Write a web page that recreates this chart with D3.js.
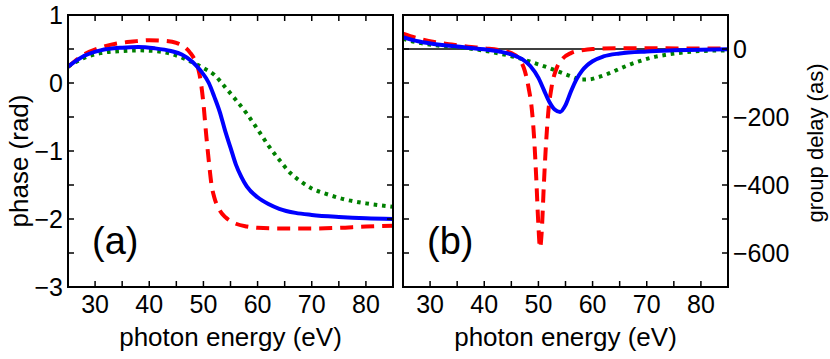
<!DOCTYPE html>
<html>
<head>
<meta charset="utf-8">
<script src="https://cdn.jsdelivr.net/npm/d3@7"></script>
<style>
  body { margin: 0; background: #fff; }
  text { font-family: "Liberation Sans", Arial, sans-serif; fill: #000; }
</style>
</head>
<body>
<div id="chart"></div>
<script>
// photon energy (eV) vs phase (rad) -- panel (a)
let phaseBlue = [[25,0.24],[28,0.40],[31,0.48],[35,0.52],[38,0.53],[41,0.51],[44,0.47],[46,0.42],[48,0.31],[49.5,0.18],[51,0.0],[52,-0.2],[53,-0.42],[54,-0.7],[55,-0.95],[56,-1.2],[57,-1.38],[58,-1.52],[60,-1.68],[62,-1.78],[64,-1.85],[67,-1.91],[70,-1.94],[75,-1.97],[80,-1.99],[85,-2.0]];
let phaseRed = [[25,0.24],[28,0.42],[31,0.52],[34,0.58],[37,0.61],[40,0.63],[43,0.62],[45,0.59],[46.5,0.53],[47.5,0.45],[48.5,0.32],[49.3,0.12],[50,-0.3],[50.5,-0.75],[51,-1.15],[51.5,-1.5],[52,-1.68],[53,-1.87],[54,-1.97],[55,-2.03],[56,-2.07],[58,-2.11],[60,-2.13],[65,-2.14],[70,-2.14],[75,-2.13],[80,-2.11],[85,-2.10]];
let phaseGreen = [[25,0.24],[28,0.37],[31,0.44],[35,0.47],[38,0.48],[41,0.47],[44,0.43],[47,0.34],[50,0.22],[52,0.12],[54,-0.06],[56,-0.25],[58,-0.45],[60,-0.68],[62,-0.92],[64,-1.13],[66,-1.32],[68,-1.45],[70,-1.55],[73,-1.64],[76,-1.71],[80,-1.77],[85,-1.82]];

// photon energy (eV) vs group delay (as) -- panel (b)
let delayBlue = [[25,35],[28,22],[31,14],[34,9],[37,4],[40,-1],[43,-8],[45,-16],[47,-30],[48.5,-50],[50,-85],[51,-120],[52,-155],[53,-178],[54,-185],[55,-165],[56,-125],[57,-90],[58,-65],[59,-48],[60,-36],[62,-22],[65,-13],[70,-7],[75,-4],[80,-2],[85,-1]];
let delayRed = [[25,45],[28,30],[31,20],[34,13],[37,7],[40,2],[43,-4],[45,-12],[46.5,-30],[47.5,-65],[48.2,-115],[48.8,-180],[49.2,-260],[49.6,-380],[50.0,-520],[50.3,-585],[50.6,-540],[51.0,-400],[51.4,-280],[51.8,-190],[52.4,-115],[53.4,-55],[54.5,-28],[56,-12],[58,-4],[60,0],[65,2],[70,2],[85,1]];
let delayGreen = [[25,30],[28,18],[31,11],[34,6],[37,2],[40,-5],[43,-14],[46,-25],[49,-40],[52,-56],[54,-68],[56,-80],[58,-90],[59.5,-89],[61,-83],[63,-72],[65,-58],[67,-45],[69,-34],[71,-25],[74,-16],[77,-10],[80,-6],[85,-4]];

let xTickLabels = [30, 40, 50, 60, 70, 80];
let phaseTickLabels = [1, 0, -1, -2, -3];
let delayTickLabels = [0, -200, -400, -600];

let svgWidth = 830;
let svgHeight = 359;

let svg = d3.select("#chart")
    .append("svg")
    .attr("width", svgWidth)
    .attr("height", svgHeight);

let plotTop = 15, plotBottom = 287;

// line styles for the three curves
let styles = {
    blue: { color: "#0000ff", dash: null, cap: "round" },
    red: { color: "#ff0000", dash: "13,8", cap: "butt" },
    green: { color: "#008000", dash: "3.6,4.8", cap: "butt" }
};

function drawPanel(left, right, yDomain, yMinor, yLabels, labelSide, series, tag, clipId) {
    let x = d3.scaleLinear().domain([25, 85]).range([left, right]);
    let y = d3.scaleLinear().domain(yDomain).range([plotBottom, plotTop]);

    let g = svg.append("g");

    g.append("clipPath").attr("id", clipId)
        .append("rect")
        .attr("x", left).attr("y", plotTop)
        .attr("width", right - left).attr("height", plotBottom - plotTop);

    // zero line in the delay panel
    if (labelSide === "right") {
        g.append("line")
            .attr("x1", left).attr("x2", right)
            .attr("y1", y(0)).attr("y2", y(0))
            .attr("stroke", "#000").attr("stroke-width", 1.5);
    }

    let line = d3.line()
        .x(d => x(d[0]))
        .y(d => y(d[1]))
        .curve(d3.curveMonotoneX);

    let plot = g.append("g").attr("clip-path", `url(#${clipId})`);
    ["green", "red", "blue"].forEach(function (k) {
        let s = styles[k];
        plot.append("path")
            .datum(series[k])
            .attr("fill", "none")
            .attr("stroke", s.color)
            .attr("stroke-width", 4)
            .attr("stroke-linecap", s.cap)
            .attr("stroke-dasharray", s.dash)
            .attr("d", line);
    });

    // inward ticks on all four sides
    let xTicks = d3.range(25, 86, 5);
    let tickLen = 6;
    xTicks.forEach(function (t) {
        g.append("line").attr("x1", x(t)).attr("x2", x(t))
            .attr("y1", plotBottom).attr("y2", plotBottom - tickLen)
            .attr("stroke", "#000").attr("stroke-width", 1.5);
        g.append("line").attr("x1", x(t)).attr("x2", x(t))
            .attr("y1", plotTop).attr("y2", plotTop + tickLen)
            .attr("stroke", "#000").attr("stroke-width", 1.5);
    });
    yMinor.forEach(function (t) {
        g.append("line").attr("x1", left).attr("x2", left + tickLen)
            .attr("y1", y(t)).attr("y2", y(t))
            .attr("stroke", "#000").attr("stroke-width", 1.5);
        g.append("line").attr("x1", right).attr("x2", right - tickLen)
            .attr("y1", y(t)).attr("y2", y(t))
            .attr("stroke", "#000").attr("stroke-width", 1.5);
    });

    // frame
    g.append("rect")
        .attr("x", left).attr("y", plotTop)
        .attr("width", right - left).attr("height", plotBottom - plotTop)
        .attr("fill", "none").attr("stroke", "#000").attr("stroke-width", 2);

    // bottom tick labels
    let fmt = d3.format("d");
    g.selectAll(".xl").data(xTickLabels).enter()
        .append("text")
        .attr("x", d => x(d))
        .attr("y", 313)
        .attr("text-anchor", "middle")
        .attr("font-size", 25)
        .text(d => fmt(d));

    // y tick labels
    g.selectAll(".yl").data(yLabels).enter()
        .append("text")
        .attr("x", labelSide === "left" ? left - 5 : right + 5)
        .attr("y", d => y(d))
        .attr("dy", "0.36em")
        .attr("text-anchor", labelSide === "left" ? "end" : "start")
        .attr("font-size", 25)
        .text(d => fmt(d));

    g.append("text")
        .attr("x", (left + right) / 2)
        .attr("y", 346)
        .attr("text-anchor", "middle")
        .attr("font-size", 26)
        .text("photon energy (eV)");

    g.append("text")
        .attr("x", left + 24)
        .attr("y", 254)
        .attr("font-size", 38)
        .text(tag);
}

drawPanel(68, 393, [-3, 1], d3.range(-3, 1.01, 0.5), phaseTickLabels, "left",
    { blue: phaseBlue, red: phaseRed, green: phaseGreen }, "(a)", "clipA");

drawPanel(403, 728, [-700, 100], d3.range(-700, 101, 100), delayTickLabels, "right",
    { blue: delayBlue, red: delayRed, green: delayGreen }, "(b)", "clipB");

// axis titles
svg.append("text")
    .attr("transform", "translate(28,161) rotate(-90)")
    .attr("text-anchor", "middle")
    .attr("font-size", 26)
    .text("phase (rad)");

svg.append("text")
    .attr("transform", "translate(823,143) rotate(-90)")
    .attr("text-anchor", "middle")
    .attr("font-size", 22)
    .text("group delay (as)");
</script>
</body>
</html>
